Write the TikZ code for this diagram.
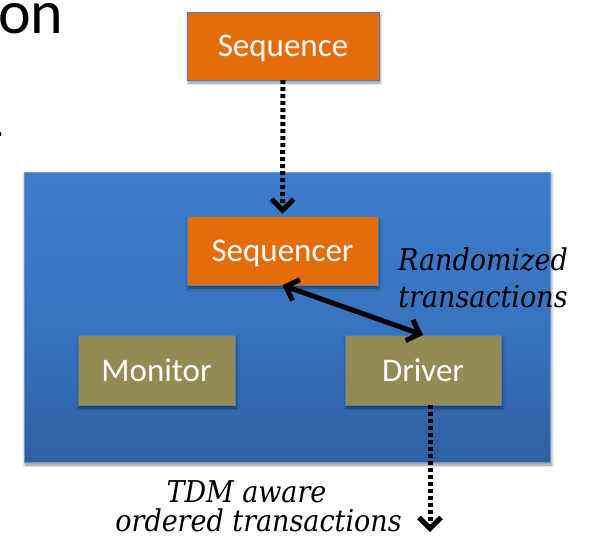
\documentclass[tikz,border=0pt]{standalone}
\usepackage{fontspec}
\setmainfont{Carlito}
\newfontfamily\lblfont{DejaVu Serif Condensed}
\usetikzlibrary{arrows.meta,shadows.blur,calc}
\definecolor{orng}{HTML}{E46C0A}
\definecolor{olv}{HTML}{948A54}
\definecolor{bluetop}{HTML}{3C7DCC}
\definecolor{bluemid}{HTML}{3874C0}
\definecolor{bluebot}{HTML}{2E60A2}
\definecolor{edgeblue}{HTML}{4A7EBB}
\definecolor{frameblue}{HTML}{6A98D2}
\begin{document}
\begin{tikzpicture}[x=1pt,y=-1pt,
  shad/.style={blur shadow={shadow xshift=1pt, shadow yshift=-3pt, shadow blur radius=3pt, shadow opacity=45}},
  compbox/.style={shad, draw=edgeblue, line width=1pt, inner sep=0pt, outer sep=0pt,
    text depth=0pt, text=white, font=\fontsize{33}{40}\selectfont},
  orangebox/.style={compbox, fill=orng},
  olivebox/.style={compbox, fill=olv},
  lbl/.style={inner sep=0pt, anchor=base, font=\lblfont\itshape\fontsize{30}{37}\selectfont},
  dotarrow/.style={line width=5pt, dash pattern=on 4pt off 3pt,
    -{Straight Barb[length=11pt,width=22pt]}},
  solidarrow/.style={line width=5pt,
    {Straight Barb[length=11pt,width=22pt]}-{Straight Barb[length=11pt,width=22pt]}}
]
\useasboundingbox (0,0) rectangle (595,541);

% partial title text and mark at left edge
\node[anchor=base west, inner sep=0pt, font=\fontsize{62}{70}\selectfont] (title) at (-2,33) {on};
\fill (-1,134) circle (2.5);

% environment container
\node[shad, draw=frameblue, line width=0.8pt, top color=bluetop, bottom color=bluebot,
  middle color=bluemid, minimum width=526.5pt, minimum height=290pt, inner sep=0pt]
  (env) at (287.25,317) {};

% components
\node[orangebox, minimum width=192pt, minimum height=68pt] (seq) at (283,46) {Sequence};
\node[orangebox, minimum width=191pt, minimum height=68.5pt] (seqr) at (282.5,251) {Sequencer};
\node[olivebox, minimum width=157pt, minimum height=70pt] (mon) at (156.5,370) {Monitor};
\node[olivebox, minimum width=156pt, minimum height=70pt] (drv) at (423,370) {Driver};

% labels
\node[lbl] (rl1) at (483,270.5) {Randomized};
\node[lbl] (rl2) at (483,307.5) {transactions};
\node[lbl] (bl1) at (246.5,502) {TDM aware};
\node[lbl] (bl2) at (258.5,531) {ordered transactions};

% connectors
\coordinate (outend) at (430,532);
\draw[dotarrow, shorten >=3pt] (seq.south) -- (seqr.north);
\draw[solidarrow] (seqr.south) -- (drv.north);
\draw[dotarrow] (drv.south -| outend) -- (outend);
\end{tikzpicture}
\end{document}
